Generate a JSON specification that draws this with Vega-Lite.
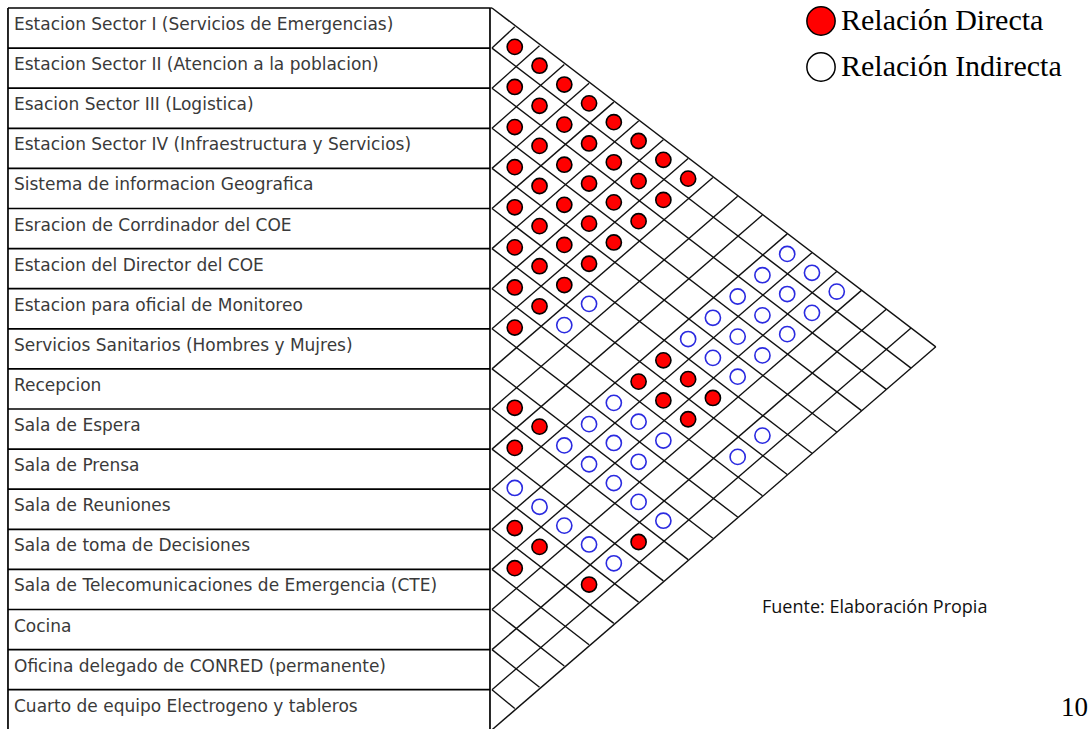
{
  "$schema": "https://vega.github.io/schema/vega-lite/v6.json",
  "width": 1088,
  "height": 729,
  "autosize": {"type": "none"},
  "padding": 0,
  "background": "white",
  "config": {"view": {"stroke": null}},
  "datasets": {
    "spaces": [
      {"idx": 1, "name": "Estacion Sector I (Servicios de Emergencias)"},
      {"idx": 2, "name": "Estacion Sector II (Atencion a la poblacion)"},
      {"idx": 3, "name": "Esacion Sector III (Logistica)"},
      {"idx": 4, "name": "Estacion Sector IV (Infraestructura y Servicios)"},
      {"idx": 5, "name": "Sistema de informacion Geografica"},
      {"idx": 6, "name": "Esracion de Corrdinador del COE"},
      {"idx": 7, "name": "Estacion del Director del COE"},
      {"idx": 8, "name": "Estacion para oficial de Monitoreo"},
      {"idx": 9, "name": "Servicios Sanitarios (Hombres y Mujres)"},
      {"idx": 10, "name": "Recepcion"},
      {"idx": 11, "name": "Sala de Espera"},
      {"idx": 12, "name": "Sala de Prensa"},
      {"idx": 13, "name": "Sala de Reuniones"},
      {"idx": 14, "name": "Sala de toma de Decisiones"},
      {"idx": 15, "name": "Sala de Telecomunicaciones de Emergencia (CTE)"},
      {"idx": 16, "name": "Cocina"},
      {"idx": 17, "name": "Oficina delegado de CONRED (permanente)"},
      {"idx": 18, "name": "Cuarto de equipo Electrogeno y tableros"}
    ],
    "bounds": [
      {"k": 0}, {"k": 1}, {"k": 2}, {"k": 3}, {"k": 4}, {"k": 5}, {"k": 6}, {"k": 7}, {"k": 8}, {"k": 9},
      {"k": 10}, {"k": 11}, {"k": 12}, {"k": 13}, {"k": 14}, {"k": 15}, {"k": 16}, {"k": 17}, {"k": 18}
    ],
    "pairs": [
      {"a": 1, "b": 2, "rel": "Relación Directa"},
      {"a": 1, "b": 3, "rel": "Relación Directa"},
      {"a": 1, "b": 4, "rel": "Relación Directa"},
      {"a": 1, "b": 5, "rel": "Relación Directa"},
      {"a": 1, "b": 6, "rel": "Relación Directa"},
      {"a": 1, "b": 7, "rel": "Relación Directa"},
      {"a": 1, "b": 8, "rel": "Relación Directa"},
      {"a": 1, "b": 9, "rel": "Relación Directa"},
      {"a": 2, "b": 3, "rel": "Relación Directa"},
      {"a": 2, "b": 4, "rel": "Relación Directa"},
      {"a": 2, "b": 5, "rel": "Relación Directa"},
      {"a": 2, "b": 6, "rel": "Relación Directa"},
      {"a": 2, "b": 7, "rel": "Relación Directa"},
      {"a": 2, "b": 8, "rel": "Relación Directa"},
      {"a": 2, "b": 9, "rel": "Relación Directa"},
      {"a": 3, "b": 4, "rel": "Relación Directa"},
      {"a": 3, "b": 5, "rel": "Relación Directa"},
      {"a": 3, "b": 6, "rel": "Relación Directa"},
      {"a": 3, "b": 7, "rel": "Relación Directa"},
      {"a": 3, "b": 8, "rel": "Relación Directa"},
      {"a": 3, "b": 9, "rel": "Relación Directa"},
      {"a": 4, "b": 5, "rel": "Relación Directa"},
      {"a": 4, "b": 6, "rel": "Relación Directa"},
      {"a": 4, "b": 7, "rel": "Relación Directa"},
      {"a": 4, "b": 8, "rel": "Relación Directa"},
      {"a": 4, "b": 9, "rel": "Relación Directa"},
      {"a": 5, "b": 6, "rel": "Relación Directa"},
      {"a": 5, "b": 7, "rel": "Relación Directa"},
      {"a": 5, "b": 8, "rel": "Relación Directa"},
      {"a": 5, "b": 9, "rel": "Relación Directa"},
      {"a": 6, "b": 7, "rel": "Relación Directa"},
      {"a": 6, "b": 8, "rel": "Relación Directa"},
      {"a": 6, "b": 9, "rel": "Relación Directa"},
      {"a": 7, "b": 8, "rel": "Relación Directa"},
      {"a": 7, "b": 9, "rel": "Relación Directa"},
      {"a": 8, "b": 9, "rel": "Relación Directa"},
      {"a": 6, "b": 13, "rel": "Relación Directa"},
      {"a": 7, "b": 13, "rel": "Relación Directa"},
      {"a": 6, "b": 14, "rel": "Relación Directa"},
      {"a": 7, "b": 14, "rel": "Relación Directa"},
      {"a": 6, "b": 15, "rel": "Relación Directa"},
      {"a": 7, "b": 15, "rel": "Relación Directa"},
      {"a": 10, "b": 11, "rel": "Relación Directa"},
      {"a": 10, "b": 12, "rel": "Relación Directa"},
      {"a": 11, "b": 12, "rel": "Relación Directa"},
      {"a": 13, "b": 14, "rel": "Relación Directa"},
      {"a": 13, "b": 15, "rel": "Relación Directa"},
      {"a": 14, "b": 15, "rel": "Relación Directa"},
      {"a": 13, "b": 17, "rel": "Relación Directa"},
      {"a": 11, "b": 17, "rel": "Relación Directa"},
      {"a": 6, "b": 10, "rel": "Relación Indirecta"},
      {"a": 7, "b": 10, "rel": "Relación Indirecta"},
      {"a": 1, "b": 13, "rel": "Relación Indirecta"},
      {"a": 2, "b": 13, "rel": "Relación Indirecta"},
      {"a": 3, "b": 13, "rel": "Relación Indirecta"},
      {"a": 4, "b": 13, "rel": "Relación Indirecta"},
      {"a": 5, "b": 13, "rel": "Relación Indirecta"},
      {"a": 1, "b": 14, "rel": "Relación Indirecta"},
      {"a": 2, "b": 14, "rel": "Relación Indirecta"},
      {"a": 3, "b": 14, "rel": "Relación Indirecta"},
      {"a": 4, "b": 14, "rel": "Relación Indirecta"},
      {"a": 5, "b": 14, "rel": "Relación Indirecta"},
      {"a": 1, "b": 15, "rel": "Relación Indirecta"},
      {"a": 2, "b": 15, "rel": "Relación Indirecta"},
      {"a": 3, "b": 15, "rel": "Relación Indirecta"},
      {"a": 4, "b": 15, "rel": "Relación Indirecta"},
      {"a": 5, "b": 15, "rel": "Relación Indirecta"},
      {"a": 8, "b": 13, "rel": "Relación Indirecta"},
      {"a": 9, "b": 13, "rel": "Relación Indirecta"},
      {"a": 10, "b": 13, "rel": "Relación Indirecta"},
      {"a": 8, "b": 14, "rel": "Relación Indirecta"},
      {"a": 9, "b": 14, "rel": "Relación Indirecta"},
      {"a": 10, "b": 14, "rel": "Relación Indirecta"},
      {"a": 8, "b": 15, "rel": "Relación Indirecta"},
      {"a": 9, "b": 15, "rel": "Relación Indirecta"},
      {"a": 10, "b": 15, "rel": "Relación Indirecta"},
      {"a": 12, "b": 13, "rel": "Relación Indirecta"},
      {"a": 12, "b": 14, "rel": "Relación Indirecta"},
      {"a": 12, "b": 15, "rel": "Relación Indirecta"},
      {"a": 12, "b": 16, "rel": "Relación Indirecta"},
      {"a": 12, "b": 17, "rel": "Relación Indirecta"},
      {"a": 10, "b": 16, "rel": "Relación Indirecta"},
      {"a": 10, "b": 17, "rel": "Relación Indirecta"},
      {"a": 6, "b": 17, "rel": "Relación Indirecta"},
      {"a": 7, "b": 17, "rel": "Relación Indirecta"}
    ],
    "notes": [{"t": "Fuente: Elaboración Propia"}],
    "page": [{"t": "10"}]
  },
  "layer": [
    {
      "data": {"name": "bounds"},
      "transform": [
        {"calculate": "-12.02", "as": "tx0"},
        {"calculate": "0", "as": "tx1"}
      ],
      "mark": {"type": "rule", "color": "#000", "strokeWidth": 1.7},
      "encoding": {
        "x": {"field": "tx0", "type": "quantitative", "scale": {"domain": [-12.219, 14.913], "nice": false, "zero": false}, "axis": null},
        "x2": {"field": "tx1"},
        "y": {"field": "k", "type": "quantitative", "scale": {"domain": [-0.1995, 17.98], "nice": false, "zero": false, "reverse": true}, "axis": null}
      }
    },
    {
      "data": {"values": [{"edge": "left"}, {"edge": "right"}]},
      "transform": [
        {"calculate": "datum.edge == 'left' ? -12.02 : 0", "as": "ex"},
        {"calculate": "0", "as": "ey0"},
        {"calculate": "18.3", "as": "ey1"}
      ],
      "mark": {"type": "rule", "color": "#000", "strokeWidth": 1.7},
      "encoding": {
        "x": {"field": "ex", "type": "quantitative"},
        "y": {"field": "ey0", "type": "quantitative"},
        "y2": {"field": "ey1"}
      }
    },
    {
      "data": {"name": "bounds"},
      "transform": [
        {"calculate": "0.05", "as": "sx"},
        {"calculate": "(18 - datum.k) / 1.619", "as": "ex"},
        {"calculate": "datum.k + 0.76 * (18 - datum.k) / 1.619", "as": "ey"}
      ],
      "mark": {"type": "rule", "color": "#111", "strokeWidth": 1.4},
      "encoding": {
        "x": {"field": "sx", "type": "quantitative"},
        "y": {"field": "k", "type": "quantitative"},
        "x2": {"field": "ex"},
        "y2": {"field": "ey"}
      }
    },
    {
      "data": {"name": "bounds"},
      "transform": [
        {"calculate": "0.05", "as": "sx"},
        {"calculate": "datum.k / 1.619", "as": "ex"},
        {"calculate": "datum.k - 0.859 * datum.k / 1.619", "as": "ey"}
      ],
      "mark": {"type": "rule", "color": "#111", "strokeWidth": 1.4},
      "encoding": {
        "x": {"field": "sx", "type": "quantitative"},
        "y": {"field": "k", "type": "quantitative"},
        "x2": {"field": "ex"},
        "y2": {"field": "ey"}
      }
    },
    {
      "data": {"name": "spaces"},
      "transform": [
        {"calculate": "-11.87", "as": "lx"},
        {"calculate": "datum.idx - 0.5", "as": "ly"}
      ],
      "mark": {"type": "text", "align": "left", "baseline": "middle", "font": "DejaVu Sans", "fontSize": 17, "color": "#3a3a3a", "dy": -3},
      "encoding": {
        "x": {"field": "lx", "type": "quantitative"},
        "y": {"field": "ly", "type": "quantitative"},
        "text": {"field": "name", "type": "nominal"}
      }
    },
    {
      "data": {"name": "pairs"},
      "transform": [
        {"calculate": "(datum.b - datum.a) / 1.619", "as": "px"},
        {"calculate": "datum.a - 0.5 + 0.76 * (datum.b - datum.a) / 1.619", "as": "py"}
      ],
      "mark": {"type": "circle", "size": 230, "strokeWidth": 1.6, "opacity": 1, "fillOpacity": 1, "strokeOpacity": 1},
      "encoding": {
        "x": {"field": "px", "type": "quantitative"},
        "y": {"field": "py", "type": "quantitative"},
        "fill": {
          "field": "rel", "type": "nominal",
          "scale": {"domain": ["Relación Directa", "Relación Indirecta"], "range": ["#ff0000", "#ffffff"]},
          "legend": {
            "title": null, "orient": "none", "legendX": 806, "legendY": 6, "direction": "vertical",
            "symbolType": "circle", "symbolSize": 800, "symbolStrokeWidth": 1.5, "symbolStrokeColor": "#000",
            "symbolOpacity": 1,
            "labelFont": "Liberation Serif", "labelFontSize": 30, "labelColor": "#000", "labelLimit": 400,
            "labelOffset": 5, "rowPadding": 10, "padding": 0
          }
        },
        "stroke": {
          "condition": {"test": "datum.rel == 'Relación Indirecta'", "value": "#2a2ae0"},
          "value": "#000000"
        }
      }
    },
    {
      "data": {"name": "notes"},
      "transform": [
        {"calculate": "6.783", "as": "nx"},
        {"calculate": "14.963", "as": "ny"}
      ],
      "mark": {"type": "text", "align": "left", "baseline": "middle", "font": "Open Sans", "fontSize": 18, "color": "#111"},
      "encoding": {
        "x": {"field": "nx", "type": "quantitative"},
        "y": {"field": "ny", "type": "quantitative"},
        "text": {"field": "t", "type": "nominal"}
      }
    },
    {
      "data": {"name": "page"},
      "transform": [
        {"calculate": "14.24", "as": "nx"},
        {"calculate": "17.456", "as": "ny"}
      ],
      "mark": {"type": "text", "align": "left", "baseline": "middle", "font": "Liberation Serif", "fontSize": 27, "color": "#000"},
      "encoding": {
        "x": {"field": "nx", "type": "quantitative"},
        "y": {"field": "ny", "type": "quantitative"},
        "text": {"field": "t", "type": "nominal"}
      }
    }
  ]
}
